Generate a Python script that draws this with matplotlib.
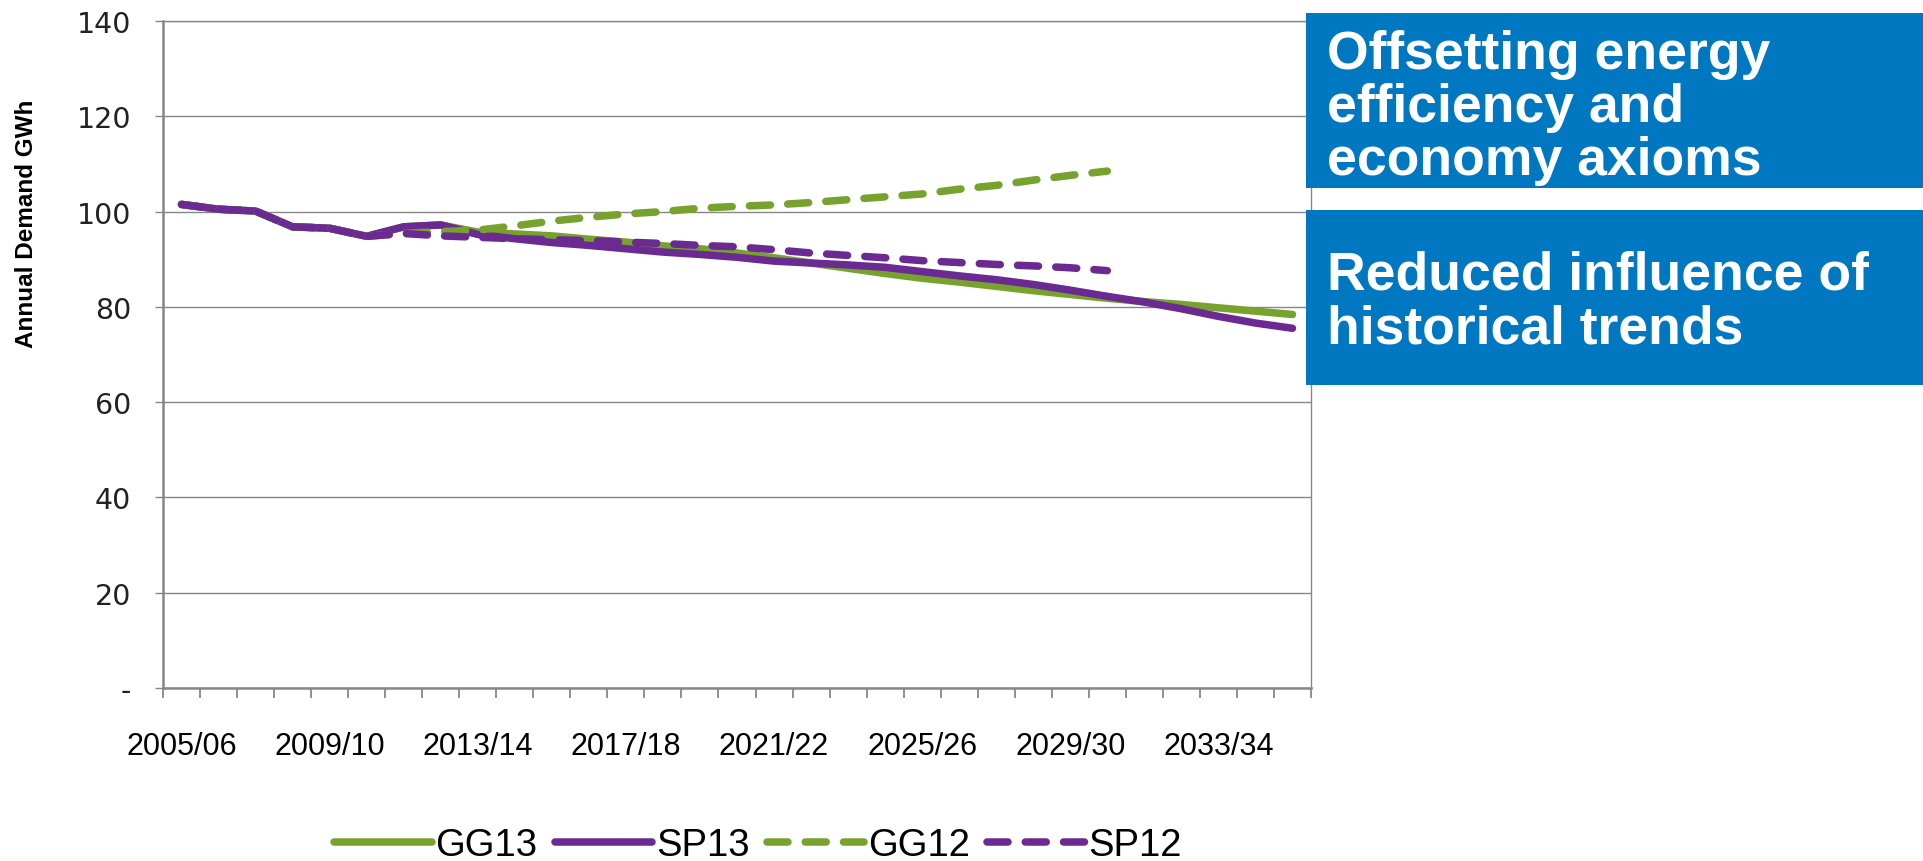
import numpy as np
import matplotlib
matplotlib.use("Agg")
from matplotlib import pyplot as plt
from matplotlib.patches import Rectangle

# categories (financial years)
years = ["2005/06", "2006/07", "2007/08", "2008/09", "2009/10", "2010/11",
         "2011/12", "2012/13", "2013/14", "2014/15", "2015/16", "2016/17",
         "2017/18", "2018/19", "2019/20", "2020/21", "2021/22", "2022/23",
         "2023/24", "2024/25", "2025/26", "2026/27", "2027/28", "2028/29",
         "2029/30", "2030/31", "2031/32", "2032/33", "2033/34", "2034/35",
         "2035/36"]

# annual demand, GWh
gg13 = [101.5, 100.5, 100.1, 96.8, 96.5, 94.8, 96.8, 97.2, 95.7, 95.3, 94.9,
        94.2, 93.6, 92.8, 92.2, 91.3, 90.3, 89.2, 88.1, 87.0, 86.0, 85.2,
        84.3, 83.4, 82.6, 81.8, 81.1, 80.5, 79.8, 79.1, 78.4]
sp13 = [101.5, 100.5, 100.1, 96.8, 96.5, 94.8, 96.8, 97.2, 95.2, 94.3, 93.5,
        92.9, 92.2, 91.5, 91.0, 90.4, 89.6, 89.2, 88.8, 88.3, 87.4, 86.5,
        85.7, 84.7, 83.5, 82.2, 81.0, 79.6, 78.0, 76.6, 75.5]
gg12 = [101.5, 100.5, 100.1, 96.8, 96.5, 94.8, 95.4, 95.8, 96.1, 97.0, 98.0,
        98.8, 99.5, 100.0, 100.7, 101.1, 101.4, 101.9, 102.5, 103.1, 103.7,
        104.7, 105.5, 106.6, 107.6, 108.5]
sp12 = [101.5, 100.5, 100.1, 96.8, 96.5, 94.8, 95.4, 94.9, 94.6, 94.3, 94.1,
        93.9, 93.6, 93.3, 92.9, 92.6, 92.0, 91.3, 90.8, 90.3, 89.7, 89.3,
        88.9, 88.6, 88.2, 87.6]

y_ticks = [0, 20, 40, 60, 80, 100, 120, 140]
y_labels = ["-", "20", "40", "60", "80", "100", "120", "140"]

box_texts = [["Offsetting energy", "efficiency and", "economy axioms"],
             ["Reduced influence of", "historical trends"]]

GREEN = "#76a22d"
PURPLE = "#6a2a91"
BLUE = "#0078c1"
GRID = "#878787"
SANS = ["Liberation Sans", "DejaVu Sans"]

W, H = 1923, 862
fig = plt.figure(figsize=(W / 100, H / 100), dpi=100)
ax = fig.add_axes([163 / W, 1 - 689 / H, (1311 - 163) / W, (689 - 22) / H])

x = np.arange(len(years))
lw = 5.4
dash = (2.8, 2.3)
ax.plot(x, gg13, color=GREEN, lw=lw, solid_capstyle="round", label="GG13")
ax.plot(x, sp13, color=PURPLE, lw=lw, solid_capstyle="round", label="SP13")
ax.plot(x[:len(gg12)], gg12, color=GREEN, lw=lw, dashes=dash,
        dash_capstyle="round", label="GG12")
ax.plot(x[:len(sp12)], sp12, color=PURPLE, lw=lw, dashes=dash,
        dash_capstyle="round", label="SP12")

ax.set_xlim(-0.5, len(years) - 0.5)
ax.set_ylim(0, 140)

# category axis: labels every 4 years, ticks between categories
ax.set_xticks(x[::4])
ax.set_xticklabels(years[::4], family=SANS, fontsize=22)
ax.set_xticks(np.arange(-0.5, len(years)), minor=True)
ax.tick_params(axis="x", which="major", length=0, pad=31)
ax.tick_params(axis="x", which="minor", length=7, width=1.3, color=GRID,
               direction="out")

ax.set_yticks(y_ticks)
ax.set_yticklabels(y_labels, fontsize=20.5, color="#222222")
ax.tick_params(axis="y", length=6, width=1.0, color=GRID, pad=17)
ax.yaxis.grid(True, color=GRID, lw=1.0)
ax.set_axisbelow(True)

for side in ["left", "bottom"]:
    ax.spines[side].set_color(GRID)
    ax.spines[side].set_linewidth(1.8)
for side in ["top", "right"]:
    ax.spines[side].set_color(GRID)
    ax.spines[side].set_linewidth(1.0)

fig.text(27 / W, 1 - 224 / H, "Annual Demand GWh", rotation=90, ha="center",
         va="center", fontsize=17.5, fontweight="bold", family=SANS)

fig.legend(loc="center", bbox_to_anchor=(758 / W, 1 - 846 / H), ncol=4,
           frameon=False, prop={"family": SANS, "size": 27.5},
           handlelength=2.55, handletextpad=0.1, columnspacing=0.45)

# blue call-out boxes on the right
boxes = [(14, 189, [69, 122, 175]), (211, 386, [290, 343])]
for (top, bottom, baselines), lines in zip(boxes, box_texts):
    fig.patches.append(Rectangle((1306 / W, 1 - bottom / H), (W - 1306) / W,
                                 (bottom - top) / H, transform=fig.transFigure,
                                 facecolor=BLUE, edgecolor="none"))
    for bl, line in zip(baselines, lines):
        fig.text(1327 / W, 1 - bl / H, line, color="white", fontsize=38.5,
                 fontweight="bold", family=SANS, ha="left", va="baseline")

fig.savefig("out.png", dpi=100)
